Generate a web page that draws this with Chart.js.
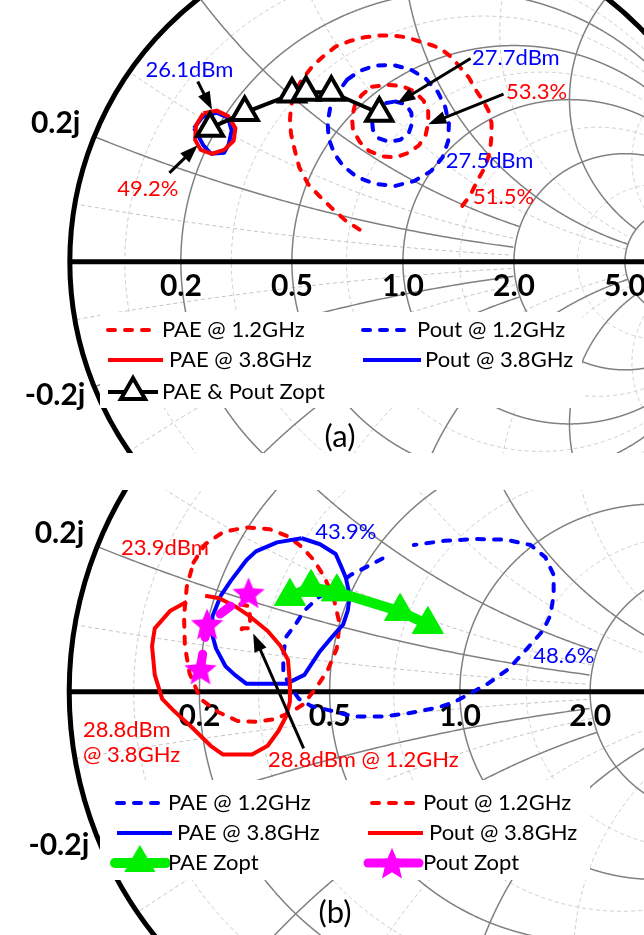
<!DOCTYPE html>
<html>
<head>
<meta charset="utf-8">
<title>Load-pull contours</title>
<script src="https://cdn.jsdelivr.net/npm/chart.js@4.4.0/dist/chart.umd.min.js"></script>
<style>
  html, body { margin: 0; padding: 0; background: #fff; }
  #wrap { position: relative; width: 644px; height: 935px; overflow: hidden; }
  canvas { position: absolute; left: 0; }
  #chartA { top: 0; }
  #chartB { top: 490px; }
</style>
</head>
<body>
<div id="wrap">
  <canvas id="chartA" width="644" height="453"></canvas>
  <canvas id="chartB" width="644" height="445"></canvas>
</div>
<script>
// grille de l'abaque (valeurs normalisées)
const rMajor = [0.2, 0.5, 1, 2, 5];
const rMinor = [0.09, 0.32, 0.71, 1.41, 3.2];
const xMajor = [0.2, 0.5, 1, 2, 5];
const xMajorLim = [2, 2, 5, 5, Infinity];
const xMinor = [0.09, 0.32, 0.71, 1.41, 3.2];
const xMinorLim = [2, 2, 5, 5, Infinity];
const rLabels = ['0.2', '0.5', '1.0', '2.0', '5.0'];
const xLabelValues = [0.2, -0.2];
const xLabels = ['0.2j', '-0.2j'];

// (a) contours, coefficient de réflexion [re, im]
const paeA12Outer = [[-0.130,0.099],[-0.172,0.127],[-0.212,0.164],[-0.254,0.206],[-0.285,0.240],[-0.311,0.291],[-0.325,0.345],[-0.336,0.395],[-0.339,0.438],[-0.336,0.480],[-0.325,0.523],[-0.299,0.568],[-0.268,0.607],[-0.234,0.638],[-0.201,0.664],[-0.158,0.681],[-0.116,0.692],[-0.073,0.698],[-0.031,0.698],[0.011,0.692],[0.054,0.678],[0.090,0.667],[0.116,0.655],[0.147,0.630],[0.172,0.599],[0.198,0.568],[0.218,0.531],[0.240,0.497],[0.257,0.466],[0.266,0.427],[0.266,0.390],[0.263,0.356],[0.257,0.325],[0.246,0.291],[0.229,0.260],[0.215,0.232],[0.201,0.203],[0.172,0.164]];
const paeA12Inner = [[-0.093,0.540],[-0.045,0.545],[-0.003,0.542],[0.034,0.525],[0.062,0.497],[0.076,0.463],[0.076,0.427],[0.068,0.390],[0.048,0.359],[0.017,0.336],[-0.023,0.322],[-0.062,0.325],[-0.102,0.342],[-0.130,0.370],[-0.150,0.407],[-0.153,0.446],[-0.144,0.483],[-0.124,0.514]];
const poutA12Outer = [[-0.167,0.562],[-0.195,0.523],[-0.218,0.477],[-0.226,0.429],[-0.223,0.381],[-0.206,0.333],[-0.178,0.294],[-0.136,0.260],[-0.082,0.240],[-0.023,0.234],[0.034,0.249],[0.085,0.280],[0.119,0.322],[0.136,0.373],[0.138,0.427],[0.127,0.477],[0.105,0.523],[0.068,0.565],[0.023,0.593],[-0.031,0.607],[-0.085,0.605],[-0.130,0.588]];
const poutA12Inner = [[-0.023,0.494],[0.008,0.486],[0.025,0.460],[0.028,0.429],[0.017,0.395],[-0.008,0.376],[-0.042,0.370],[-0.073,0.381],[-0.090,0.407],[-0.093,0.438],[-0.082,0.469],[-0.056,0.489]];
const paeA38 = [[-0.599,0.458],[-0.559,0.466],[-0.525,0.449],[-0.503,0.412],[-0.508,0.373],[-0.537,0.345],[-0.573,0.333],[-0.607,0.345],[-0.624,0.376],[-0.621,0.421]];
const poutA38 = [[-0.627,0.412],[-0.602,0.446],[-0.559,0.460],[-0.525,0.444],[-0.514,0.404],[-0.523,0.362],[-0.537,0.336],[-0.576,0.333],[-0.599,0.359]];
const zoptA = [[-0.579,0.412],[-0.475,0.460],[-0.333,0.517],[-0.291,0.523],[-0.215,0.523],[-0.071,0.458]];

// (b) contours
const paeB12 = [[-0.198,0.355],[-0.240,0.332],[-0.280,0.311],[-0.318,0.280],[-0.365,0.249],[-0.398,0.216],[-0.421,0.179],[-0.445,0.146],[-0.452,0.099],[-0.452,0.052],[-0.435,0.014],[-0.412,-0.019],[-0.381,-0.038],[-0.336,-0.049],[-0.271,-0.066],[-0.193,-0.066],[-0.125,-0.056],[-0.056,-0.042],[-0.016,-0.028],[0.019,-0.009],[0.071,0.021],[0.125,0.061],[0.172,0.115],[0.212,0.162],[0.231,0.202],[0.240,0.256],[0.240,0.311],[0.219,0.358],[0.181,0.391],[0.118,0.405],[0.040,0.407],[-0.040,0.402],[-0.118,0.391]];
const paeB38 = [[-0.405,0.409],[-0.358,0.393],[-0.318,0.367],[-0.304,0.334],[-0.292,0.304],[-0.282,0.256],[-0.287,0.216],[-0.299,0.179],[-0.327,0.146],[-0.358,0.108],[-0.398,0.045],[-0.445,0.021],[-0.546,0.021],[-0.576,0.045],[-0.600,0.068],[-0.624,0.115],[-0.635,0.155],[-0.633,0.202],[-0.612,0.256],[-0.586,0.296],[-0.546,0.351],[-0.522,0.374],[-0.468,0.398]];
const poutB12Outer = [[-0.682,0.344],[-0.652,0.393],[-0.605,0.426],[-0.546,0.438],[-0.487,0.433],[-0.440,0.414],[-0.405,0.386],[-0.374,0.351],[-0.346,0.304],[-0.322,0.245],[-0.308,0.181],[-0.315,0.115],[-0.339,0.056],[-0.369,0.009],[-0.400,-0.033],[-0.435,-0.056],[-0.475,-0.073],[-0.522,-0.080],[-0.569,-0.078],[-0.619,-0.054],[-0.664,-0.019],[-0.692,0.049],[-0.704,0.122],[-0.706,0.202],[-0.699,0.280]];
const poutB12Inner = [[-0.562,0.233],[-0.539,0.228],[-0.536,0.169],[-0.558,0.169],[-0.560,0.158],[-0.551,0.144]];
const poutB38 = [[-0.652,0.256],[-0.616,0.249],[-0.576,0.228],[-0.539,0.202],[-0.492,0.162],[-0.459,0.122],[-0.440,0.085],[-0.435,0.021],[-0.435,-0.026],[-0.445,-0.066],[-0.464,-0.104],[-0.492,-0.144],[-0.532,-0.167],[-0.607,-0.167],[-0.638,-0.144],[-0.685,-0.096],[-0.734,-0.049],[-0.762,-0.019],[-0.781,0.045],[-0.788,0.122],[-0.781,0.169],[-0.741,0.216],[-0.699,0.240]];
const paeZoptB = [[-0.435,0.254],[-0.381,0.278],[-0.315,0.266],[-0.153,0.214],[-0.082,0.179]];
const poutZoptB = [[-0.541,0.264],[-0.647,0.181],[-0.664,0.061]];

const RED = '#ff0000', BLUE = '#0000ff', GREEN = '#00ee00', MAGENTA = '#ff00ff';

// étoile pleine pour Pout Zopt
function starImage(color, R) {
  const c = document.createElement('canvas');
  const s = Math.ceil(R * 2 + 2);
  c.width = c.height = s;
  const g = c.getContext('2d');
  g.fillStyle = color;
  g.beginPath();
  for (let i = 0; i < 10; i++) {
    const rr = i % 2 ? R * 0.45 : R;
    const a = -Math.PI / 2 + i * Math.PI / 5;
    g.lineTo(s / 2 + rr * Math.cos(a), s / 2 + rr * Math.sin(a) + R * 0.1);
  }
  g.closePath();
  g.fill();
  return c;
}
const star = starImage(MAGENTA, 17);

const pts = (arr) => arr.map(([x, y]) => ({ x, y }));
const loop = (arr) => pts(arr.concat([arr[0]]));

function curve(label, data, color, dashed) {
  return {
    label, data, showLine: true,
    borderColor: color, backgroundColor: color, borderWidth: 4,
    borderDash: dashed ? [7, 10] : [], borderCapStyle: dashed ? 'round' : 'butt',
    borderJoinStyle: 'round', pointRadius: 0, pointHitRadius: 0, fill: false
  };
}

function zFromGamma(gr, gi) {
  const d = (1 - gr) * (1 - gr) + gi * gi;
  return [(1 - gr * gr - gi * gi) / d, (2 * gi) / d];
}

function strokeCircle(ctx, toPx, c, rad, keep) {
  const n = 3000;
  let pen = false;
  ctx.beginPath();
  for (let k = 0; k <= n; k++) {
    const t = (k / n) * 2 * Math.PI;
    const gr = c[0] + rad * Math.cos(t), gi = c[1] + rad * Math.sin(t);
    const [r, x] = zFromGamma(gr, gi);
    if (keep(r, x)) {
      const [X, Y] = toPx(gr, gi);
      if (pen) ctx.lineTo(X, Y); else ctx.moveTo(X, Y);
      pen = true;
    } else pen = false;
  }
  ctx.stroke();
}

function drawGridSet(ctx, toPx, rVals, xVals, xLims) {
  rVals.forEach(r => {
    strokeCircle(ctx, toPx, [r / (1 + r), 0], 1 / (1 + r), (rr, x) => Math.abs(x) < 1e6);
  });
  xVals.forEach((x, i) => {
    [x, -x].forEach(xv => {
      strokeCircle(ctx, toPx, [1, 1 / xv], 1 / Math.abs(xv), (rr) => rr > -0.5 && rr <= xLims[i]);
    });
  });
}

function arrow(ctx, x1, y1, x2, y2) {
  const a = Math.atan2(y2 - y1, x2 - x1), L = 18, W = 6.5;
  ctx.beginPath();
  ctx.moveTo(x1, y1);
  ctx.lineTo(x2 - L * 0.8 * Math.cos(a), y2 - L * 0.8 * Math.sin(a));
  ctx.stroke();
  ctx.beginPath();
  ctx.moveTo(x2, y2);
  ctx.lineTo(x2 - L * Math.cos(a) + W * Math.sin(a), y2 - L * Math.sin(a) - W * Math.cos(a));
  ctx.lineTo(x2 - L * Math.cos(a) - W * Math.sin(a), y2 - L * Math.sin(a) + W * Math.cos(a));
  ctx.closePath();
  ctx.fill();
}

// mise en page de chaque panneau (pixels du canvas)
const panels = {
  chartA: {
    geo: { cx: 408, cy: 265, R: 354, w: 644, h: 453 },
    legendBox: [100, 312, 482, 96],
    legend: [
      { label: 'PAE @ 1.2GHz', x1: 108, x2: 155, y: 330, tx: 162 },
      { label: 'Pout @ 1.2GHz', x1: 363, x2: 411, y: 330, tx: 417 },
      { label: 'PAE @ 3.8GHz', x1: 108, x2: 163, y: 360, tx: 169 },
      { label: 'Pout @ 3.8GHz', x1: 363, x2: 421, y: 360, tx: 425 },
      { label: 'PAE & Pout Zopt', x1: 108, x2: 158, y: 392, tx: 162, marker: 133 }
    ],
    notes: [
      { text: '26.1dBm', color: BLUE, at: [-0.641, 0.593] },
      { text: '49.2%', color: RED, at: [-0.766, 0.226] },
      { text: '27.7dBm', color: BLUE, at: [0.339, 0.630] },
      { text: '53.3%', color: RED, at: [0.401, 0.523] },
      { text: '27.5dBm', color: BLUE, at: [0.260, 0.311] },
      { text: '51.5%', color: RED, at: [0.302, 0.201] }
    ],
    arrows: [
      [[-0.616, 0.556], [-0.573, 0.469]],
      [[-0.701, 0.274], [-0.616, 0.359]],
      [[0.203, 0.627], [-0.017, 0.489]],
      [[0.302, 0.517], [0.076, 0.424]]
    ],
    tag: { text: '(a)', x: 340, y: 437 }
  },
  chartB: {
    geo: { cx: 472, cy: 199, R: 425, w: 644, h: 445 },
    legendBox: [100, 290, 490, 100],
    legend: [
      { label: 'PAE @ 1.2GHz', x1: 117, x2: 162, y: 313, tx: 168 },
      { label: 'Pout @ 1.2GHz', x1: 372, x2: 415, y: 313, tx: 423 },
      { label: 'PAE @ 3.8GHz', x1: 117, x2: 172, y: 343, tx: 177 },
      { label: 'Pout @ 3.8GHz', x1: 368, x2: 423, y: 343, tx: 429 },
      { label: 'PAE Zopt', x1: 115, x2: 166, y: 373, tx: 168, marker: 140 },
      { label: 'Pout Zopt', x1: 368, x2: 419, y: 373, tx: 423, marker: 392 }
    ],
    notes: [
      { text: '23.9dBm', color: RED, at: [-0.755, 0.384] },
      { text: '43.9%', color: BLUE, at: [-0.292, 0.426] },
      { text: '48.6%', color: BLUE, at: [0.266, 0.096] },
      { text: '28.8dBm', color: RED, at: [-0.965, -0.101], align: 'left' },
      { text: '@ 3.8GHz', color: RED, at: [-0.965, -0.169], align: 'left' },
      { text: '28.8dBm @ 1.2GHz', color: RED, at: [-0.247, -0.181] }
    ],
    arrows: [
      [[-0.400, -0.151], [-0.529, 0.155]]
    ],
    tag: { text: '(b)', x: 335, y: 423 }
  }
};

const smithPlugin = {
  id: 'smith',
  beforeDatasetsDraw(chart) {
    const P = panels[chart.canvas.id];
    const ctx = chart.ctx;
    const sx = chart.scales.x, sy = chart.scales.y;
    const toPx = (gr, gi) => [sx.getPixelForValue(gr), sy.getPixelForValue(gi)];
    const [ox, oy] = toPx(0, 0);
    const R = sx.getPixelForValue(1) - ox;

    ctx.save();
    ctx.beginPath();
    ctx.arc(ox, oy, R, 0, 2 * Math.PI);
    ctx.clip();
    ctx.strokeStyle = '#c4c4c4';
    ctx.lineWidth = 1;
    ctx.setLineDash([4, 3]);
    drawGridSet(ctx, toPx, rMinor, xMinor, xMinorLim);
    ctx.strokeStyle = '#808080';
    ctx.lineWidth = 1.5;
    ctx.setLineDash([]);
    drawGridSet(ctx, toPx, rMajor, xMajor, xMajorLim);
    ctx.restore();

    // cercle unité et axe réel
    ctx.save();
    ctx.strokeStyle = '#000';
    ctx.lineWidth = 5;
    ctx.beginPath();
    ctx.arc(ox, oy, R, 0, 2 * Math.PI);
    ctx.stroke();
    ctx.beginPath();
    ctx.moveTo(ox - R, oy);
    ctx.lineTo(ox + R, oy);
    ctx.stroke();

    // fond de la légende
    const b = P.legendBox;
    ctx.fillStyle = '#fff';
    ctx.fillRect(b[0], b[1], b[2], b[3]);

    // étiquettes de l'abaque
    ctx.fillStyle = '#000';
    ctx.font = 'bold 30px Lato';
    ctx.textAlign = 'center';
    ctx.textBaseline = 'middle';
    rMajor.forEach((r, i) => {
      const [X] = toPx((r - 1) / (r + 1), 0);
      ctx.fillText(rLabels[i], X, oy + 25);
    });
    ctx.textAlign = 'right';
    xLabelValues.forEach((x, i) => {
      const [X, Y] = toPx((x * x - 1) / (x * x + 1), 2 * x / (x * x + 1));
      if (x > 0) ctx.fillText(xLabels[i], X - 15, Y - 14);
      else ctx.fillText(xLabels[i], X - 10, Y + 9);
    });
    ctx.restore();
  },
  afterDatasetsDraw(chart) {
    const P = panels[chart.canvas.id];
    const ctx = chart.ctx;
    const sx = chart.scales.x, sy = chart.scales.y;
    const toPx = (gr, gi) => [sx.getPixelForValue(gr), sy.getPixelForValue(gi)];
    ctx.save();

    // flèches et annotations
    ctx.strokeStyle = '#000';
    ctx.fillStyle = '#000';
    ctx.lineWidth = 3;
    P.arrows.forEach(([p, q]) => {
      const [x1, y1] = toPx(p[0], p[1]);
      const [x2, y2] = toPx(q[0], q[1]);
      arrow(ctx, x1, y1, x2, y2);
    });
    ctx.font = '22px Lato';
    ctx.textBaseline = 'middle';
    P.notes.forEach(n => {
      const [X, Y] = toPx(n.at[0], n.at[1]);
      ctx.fillStyle = n.color;
      ctx.textAlign = n.align || 'center';
      ctx.fillText(n.text, X, Y);
    });

    // légende
    P.legend.forEach(item => {
      const ds = chart.data.datasets.find(d => d.label === item.label);
      ctx.strokeStyle = ds.borderColor;
      ctx.lineWidth = ds.borderWidth;
      ctx.lineCap = ds.borderCapStyle || 'butt';
      ctx.setLineDash(item.marker ? [] : (ds.borderDash || []));
      ctx.beginPath();
      ctx.moveTo(item.x1, item.y);
      ctx.lineTo(item.x2, item.y);
      ctx.stroke();
      ctx.setLineDash([]);
      if (item.marker) {
        if (ds.pointStyle === 'triangle') {
          const r = ds.pointRadius - 1;
          ctx.beginPath();
          ctx.moveTo(item.marker, item.y - r);
          ctx.lineTo(item.marker + r * 0.866, item.y + r / 2);
          ctx.lineTo(item.marker - r * 0.866, item.y + r / 2);
          ctx.closePath();
          ctx.fillStyle = ds.pointBackgroundColor;
          ctx.fill();
          ctx.strokeStyle = ds.pointBorderColor;
          ctx.lineWidth = ds.pointBorderWidth;
          ctx.lineJoin = 'miter';
          ctx.stroke();
        } else {
          const img = ds.pointStyle;
          ctx.drawImage(img, item.marker - img.width / 2, item.y - img.height / 2);
        }
      }
      ctx.fillStyle = '#000';
      ctx.font = '22px Lato';
      ctx.textAlign = 'left';
      ctx.fillText(item.label, item.tx, item.y);
    });

    // nom du panneau
    ctx.font = '31px Lato';
    ctx.textAlign = 'center';
    ctx.fillText(P.tag.text, P.tag.x, P.tag.y);
    ctx.restore();
  }
};

function makeChart(id, datasets) {
  const g = panels[id].geo;
  return new Chart(document.getElementById(id), {
    type: 'scatter',
    data: { datasets },
    options: {
      responsive: false,
      animation: false,
      events: [],
      layout: { padding: 0 },
      plugins: { legend: { display: false }, tooltip: { enabled: false } },
      scales: {
        x: { type: 'linear', display: false, min: -g.cx / g.R, max: (g.w - g.cx) / g.R },
        y: { type: 'linear', display: false, min: (g.cy - g.h) / g.R, max: g.cy / g.R }
      }
    },
    plugins: [smithPlugin]
  });
}

// panneau (a)
makeChart('chartA', [
  {
    label: 'PAE & Pout Zopt', data: pts(zoptA), showLine: true,
    borderColor: '#000', borderWidth: 4, borderCapStyle: 'butt',
    pointStyle: 'triangle', pointRadius: 15, pointBorderWidth: 4,
    pointBackgroundColor: '#fff', pointBorderColor: '#000', pointHitRadius: 0
  },
  curve('PAE @ 3.8GHz', loop(paeA38), RED, false),
  curve('Pout @ 3.8GHz', loop(poutA38), BLUE, false),
  curve('Pout @ 1.2GHz', loop(poutA12Inner), BLUE, true),
  curve('Pout @ 1.2GHz (27.5dBm)', loop(poutA12Outer), BLUE, true),
  curve('PAE @ 1.2GHz (53.3%)', loop(paeA12Inner), RED, true),
  curve('PAE @ 1.2GHz', pts(paeA12Outer), RED, true)
]);

// panneau (b)
makeChart('chartB', [
  {
    label: 'Pout Zopt', data: pts(poutZoptB), showLine: true,
    borderColor: MAGENTA, borderWidth: 9, borderCapStyle: 'round',
    borderDash: [13, 17], borderDashOffset: 7.5,
    pointStyle: star, pointRadius: 17, pointHitRadius: 0
  },
  {
    label: 'PAE Zopt', data: pts(paeZoptB), showLine: true,
    borderColor: GREEN, borderWidth: 10, borderCapStyle: 'round',
    pointStyle: 'triangle', pointRadius: 18, pointBorderWidth: 1,
    pointBackgroundColor: GREEN, pointBorderColor: GREEN, pointHitRadius: 0
  },
  curve('Pout @ 3.8GHz', pts(poutB38), RED, false),
  curve('PAE @ 3.8GHz', loop(paeB38), BLUE, false),
  curve('Pout @ 1.2GHz (28.8dBm)', pts(poutB12Inner), RED, true),
  curve('Pout @ 1.2GHz', loop(poutB12Outer), RED, true),
  curve('PAE @ 1.2GHz', pts(paeB12), BLUE, true)
]);
</script>
</body>
</html>
